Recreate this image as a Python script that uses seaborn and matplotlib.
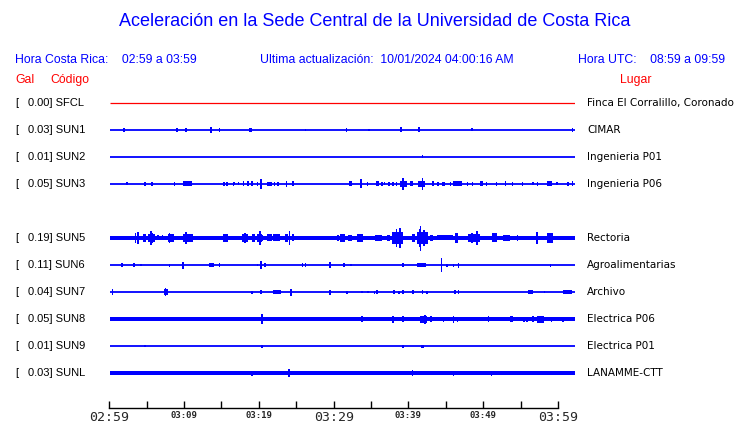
import matplotlib
matplotlib.use("Agg")
import matplotlib.pyplot as plt
import matplotlib.transforms as mtransforms
import seaborn as sns

# Stations, peak values (Gal) and places
stations = ["SFCL", "SUN1", "SUN2", "SUN3", "SUN5", "SUN6", "SUN7", "SUN8", "SUN9", "SUNL"]
gal = [0.00, 0.03, 0.01, 0.05, 0.19, 0.11, 0.04, 0.05, 0.01, 0.03]
places = ["Finca El Corralillo, Coronado", "CIMAR", "Ingenieria P01", "Ingenieria P06",
          "Rectoria", "Agroalimentarias", "Archivo", "Electrica P06", "Electrica P01", "LANAMME-CTT"]
rows = [0, 1, 2, 3, 5, 6, 7, 8, 9, 10]  # SUN4 slot is empty
noise = [0, 0, 0, 0, 1.8, 0, 0, 2.0, 0, 2.0]  # background band half-width

# Bursts per station: (start minute, end minute, half amplitude)
sfcl_ev = []
sun1_ev = [(1.8, 1.8, 2), (8.5, 8.8, 2), (9.8, 9.8, 2), (12.9, 13.2, 3), (14.1, 14.1, 2),
           (17.9, 18.3, 2), (25.2, 25.2, 1), (30.5, 30.5, 2), (33.4, 33.4, 1), (37.4, 37.7, 2.5),
           (39.7, 40.0, 2.5), (46.7, 46.7, 1.5), (59.7, 59.7, 2)]
sun2_ev = [(40.3, 40.3, 1.5)]
sun3_ev = [(2.2, 2.2, 1.5), (4.4, 4.6, 2), (5.4, 5.4, 2), (8.3, 8.3, 2), (9.4, 10.6, 2.5),
           (14.7, 14.7, 2), (15.1, 15.1, 2), (15.9, 15.9, 2), (16.1, 16.1, 1.5), (16.6, 16.6, 1.5),
           (17.2, 17.2, 2.5), (17.8, 17.8, 2.5), (18.3, 18.3, 2.5), (19.0, 19.0, 2), (19.5, 19.5, 5),
           (20.3, 20.9, 2), (21.2, 21.2, 2), (21.7, 21.7, 2), (22.8, 22.8, 3), (23.6, 23.6, 2.5),
           (30.8, 31.2, 2.5), (32.4, 32.4, 4.5), (33.2, 33.2, 2), (34.3, 34.7, 2.5), (35.1, 35.1, 2),
           (35.4, 35.4, 1.5), (36.0, 36.0, 2), (36.5, 36.5, 2), (37.0, 37.0, 2), (37.4, 38.3, 3),
           (37.8, 37.8, 6), (38.7, 39.1, 2.5), (39.7, 40.6, 3), (40.3, 40.3, 6), (41.7, 41.7, 2.5),
           (42.3, 42.3, 2), (42.8, 43.2, 2), (43.9, 43.9, 2), (44.3, 45.4, 2.5), (46.1, 46.1, 2),
           (46.8, 46.8, 2), (47.7, 48.1, 2.5), (48.6, 48.6, 2), (49.9, 49.9, 2), (51.0, 51.0, 2.5),
           (51.9, 51.9, 2), (53.2, 53.2, 2), (54.6, 54.6, 1.5), (55.2, 55.2, 2), (56.4, 57.0, 2.5),
           (57.7, 57.7, 1.5), (59.1, 59.1, 2), (59.7, 59.7, 2.5)]
sun5_ev = [(1.5, 1.5, 2), (2.6, 2.6, 2), (3.3, 3.3, 5), (3.6, 3.6, 6), (4.3, 4.7, 4),
           (4.9, 5.8, 4), (5.3, 5.3, 7), (5.5, 5.5, 5), (6.2, 6.2, 2.5), (6.8, 6.8, 2.5),
           (7.5, 8.3, 4), (7.7, 7.7, 5), (9.4, 10.7, 4), (9.8, 9.8, 6), (11.2, 11.2, 2),
           (11.6, 12.9, 2), (13.3, 13.3, 2), (14.6, 15.2, 4), (16.4, 16.4, 2), (17.0, 17.8, 4),
           (17.4, 17.4, 5), (18.3, 18.7, 4), (19.0, 19.6, 4), (19.35, 19.35, 7), (19.7, 19.7, 3),
           (20.3, 20.9, 3.5), (21.0, 21.9, 3.5), (22.6, 23.0, 4), (23.2, 23.2, 7), (23.6, 23.6, 3.5),
           (24.5, 26.2, 2), (28.0, 28.0, 2), (29.4, 29.4, 3), (29.7, 30.3, 4), (30.7, 31.2, 3),
           (31.9, 32.6, 4), (34.2, 35.1, 3), (35.7, 36.1, 3), (36.4, 37.8, 6), (37.0, 37.0, 9),
           (37.4, 37.4, 10), (39.0, 39.3, 4), (39.6, 41.0, 6), (39.9, 39.9, 9), (40.1, 40.1, 12.5),
           (40.5, 40.5, 8), (41.3, 41.7, 3), (42.2, 44.3, 2.5), (44.5, 44.9, 5), (46.2, 47.7, 4),
           (46.7, 46.7, 5), (47.35, 47.35, 7), (49.3, 49.9, 4.5), (50.7, 51.6, 3), (52.6, 52.6, 3),
           (55.1, 55.1, 6), (56.4, 57.2, 5), (58.1, 59.7, 2)]
sun6_ev = [(1.4, 1.7, 2), (3.1, 3.1, 2), (4.0, 4.0, 1), (7.7, 7.7, 1.5), (9.3, 9.6, 3.5),
           (12.8, 13.4, 2), (14.1, 14.1, 2), (19.0, 19.0, 1), (19.5, 19.5, 4), (20.0, 20.0, 2),
           (24.8, 24.8, 2), (25.2, 25.2, 2), (28.4, 28.4, 3), (30.2, 30.2, 2), (31.1, 31.1, 1),
           (37.8, 37.8, 2), (39.6, 40.8, 2), (42.8, 42.8, 7), (43.5, 43.5, 1.5), (44.3, 44.3, 1.5),
           (45.0, 45.0, 2.5), (56.8, 56.8, 1.5)]
sun7_ev = [(0.3, 0.3, 3), (7.0, 7.5, 3), (7.2, 7.2, 4), (18.3, 18.3, 1.5), (19.5, 19.5, 2),
           (21.0, 22.1, 2), (23.35, 23.35, 3.5), (28.4, 28.4, 2.5), (30.6, 30.6, 1.5), (32.5, 32.5, 1),
           (33.3, 33.3, 1), (34.1, 34.1, 1.5), (34.45, 34.45, 2), (36.5, 36.8, 2), (37.3, 37.3, 1.5),
           (37.8, 37.8, 2), (39.0, 39.2, 2), (40.3, 40.3, 2), (40.9, 40.9, 1.5), (44.5, 44.5, 2),
           (45.0, 45.0, 2), (53.9, 54.6, 2), (56.1, 56.1, 1), (58.4, 59.6, 2)]
sun8_ev = [(19.6, 19.6, 5), (32.5, 32.5, 3), (36.5, 36.5, 3.5), (37.8, 37.8, 3), (40.0, 40.9, 3.5),
           (40.65, 40.65, 4.5), (41.4, 41.4, 3), (43.0, 43.0, 2.5), (44.3, 44.3, 3.5), (44.8, 44.8, 2.5),
           (48.8, 48.8, 3), (51.6, 52.0, 3), (53.4, 53.4, 2.5), (53.8, 53.8, 2.5), (54.6, 54.6, 3),
           (55.1, 56.0, 3.5), (57.0, 57.0, 2.5), (58.45, 58.45, 2.5)]
sun9_ev = [(4.5, 4.5, 1), (19.6, 19.6, 1.5), (37.8, 37.8, 1.5), (40.1, 40.5, 1.5)]
sunl_ev = [(18.3, 18.3, 2.5), (23.1, 23.1, 4), (39.0, 39.0, 3), (44.3, 44.3, 2.5), (49.2, 49.2, 2.5)]
events = [sfcl_ev, sun1_ev, sun2_ev, sun3_ev, sun5_ev, sun6_ev, sun7_ev, sun8_ev, sun9_ev, sunl_ev]

# Time axis
tick_minutes = list(range(0, 61, 5))
tick_labels = ["02:59", "", "03:09", "", "03:19", "", "03:29", "", "03:39", "", "03:49", "", "03:59"]
big_labels = ["02:59", "03:29", "03:59"]

BLUE = "#0000ff"
RED = "#ff0000"
ROW_PX = 27.0  # amplitudes are given in pixels of a 27 px row

sns.set_theme(style="white")
plt.rcParams["font.family"] = ["Liberation Sans", "DejaVu Sans"]

W, H = 740, 423
fig = plt.figure(figsize=(W / 100, H / 100), dpi=100)

# Trace panel
ax = fig.add_axes([110 / W, 1 - 386.5 / H, 465 / W, 297 / H])
ax.set_xlim(0, 60)
ax.set_ylim(10.5, -0.5)
ax.axis("off")

for st, r, n, ev in zip(stations, rows, noise, events):
    col = RED if st == "SFCL" else BLUE
    ax.hlines(r, 0, 60, color=col, lw=1.3 if st != "SFCL" else 0.9)
    if n > 0:
        ax.fill_between([0, 60], r - n / ROW_PX, r + n / ROW_PX, color=col, lw=0)
    for t0, t1, a in ev:
        w = max(t1 - t0, 0.18)
        ax.bar((t0 + t1) / 2, 2 * a / ROW_PX, width=w, bottom=r - a / ROW_PX,
               color=col, lw=0)

# Station labels and places
trans = mtransforms.blended_transform_factory(fig.transFigure, ax.transData)
for st, r, g, p in zip(stations, rows, gal, places):
    ax.text(15 / W, r, "[", transform=trans, fontsize=8, va="center", ha="left", color="black")
    ax.text(28 / W, r, f"{g:.2f}] {st}", transform=trans, fontsize=8, va="center", ha="left",
            color="black")
    ax.text(587 / W, r, p, transform=trans, fontsize=7.5, va="center", ha="left",
            color="black", family="DejaVu Sans")

# Header texts
fig.text(375 / W, 1 - 22 / H, "Aceleración en la Sede Central de la Universidad de Costa Rica",
         ha="center", va="center", fontsize=13, color=BLUE)
fig.text(15 / W, 1 - 60 / H, "Hora Costa Rica:    02:59 a 03:59", ha="left", va="center",
         fontsize=8.8, color=BLUE)
fig.text(260 / W, 1 - 60 / H, "Ultima actualización:  10/01/2024 04:00:16 AM", ha="left",
         va="center", fontsize=8.8, color=BLUE)
fig.text(725 / W, 1 - 60 / H, "Hora UTC:    08:59 a 09:59", ha="right", va="center",
         fontsize=8.8, color=BLUE)
fig.text(15 / W, 1 - 80 / H, "Gal", ha="left", va="center", fontsize=8.8, color=RED)
fig.text(50 / W, 1 - 80 / H, "Código", ha="left", va="center", fontsize=8.8, color=RED)
fig.text(636 / W, 1 - 80 / H, "Lugar", ha="center", va="center", fontsize=8.8, color=RED)

# Time axis
tax = fig.add_axes([109.3 / W, 1 - 408 / H, 448.7 / W, 0.001])
tax.set_xlim(0, 60)
for s in ["top", "left", "right"]:
    tax.spines[s].set_visible(False)
tax.spines["bottom"].set_color("black")
tax.spines["bottom"].set_linewidth(1.0)
tax.set_yticks([])
tax.set_xticks(tick_minutes)
tax.set_xticklabels(tick_labels)
tax.tick_params(axis="x", bottom=True, direction="in", length=5, width=1.0,
                color="black", pad=2)
for lab in tax.get_xticklabels():
    lab.set_family("DejaVu Sans Mono")
    if lab.get_text() in big_labels:
        lab.set_fontsize(9.5)
    else:
        lab.set_fontsize(6.5)
        lab.set_fontweight("bold")

fig.savefig("out.png", dpi=100)
